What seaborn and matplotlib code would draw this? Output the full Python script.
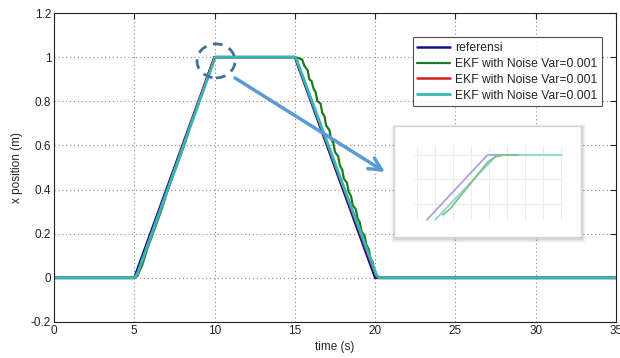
import numpy as np
import pandas as pd
import matplotlib
matplotlib.use("Agg")
import matplotlib.pyplot as plt
import seaborn as sns
from matplotlib.patches import Ellipse, Rectangle

# ---------------- data ----------------
ref_t = [0, 5, 10, 15, 20, 35]
ref_x = [0, 0, 1, 1, 0, 0]

green_t = [0, 5.0, 5.2, 5.5, 5.8, 6.1, 6.4, 6.7, 7.0, 7.3, 7.6, 7.9, 8.2, 8.5, 8.8, 9.1, 9.4, 9.7, 10.0,
           15.0, 15.45, 15.6, 15.8, 15.9, 16.05, 16.15, 16.3, 16.4, 16.6, 16.7, 16.85, 16.95, 17.15,
           17.25, 17.4, 17.5, 17.7, 17.8, 17.95, 18.05, 18.25, 18.35, 18.5, 18.6, 18.8, 18.9, 19.05,
           19.15, 19.35, 19.45, 19.6, 19.7, 19.85, 19.92, 20.0, 20.1, 20.25, 35]
green_x = [0, 0, 0.01, 0.06, 0.13, 0.19, 0.25, 0.31, 0.38, 0.44, 0.50, 0.56, 0.62, 0.69, 0.75, 0.81, 0.87, 0.94, 1.0,
           1.0, 0.99, 0.96, 0.94, 0.90, 0.89, 0.86, 0.84, 0.80, 0.79, 0.75, 0.73, 0.69, 0.67,
           0.63, 0.61, 0.57, 0.55, 0.51, 0.49, 0.45, 0.43, 0.39, 0.37, 0.33, 0.31, 0.27, 0.25,
           0.21, 0.19, 0.15, 0.13, 0.09, 0.07, 0.04, 0.03, 0.01, 0.0, 0]

red_t = [0, 5.0, 5.15, 10.0, 15.0, 15.08, 20.05, 20.2, 35]
red_x = [0, 0, 0.01, 1.0, 1.0, 0.99, 0.01, 0, 0]

cyan_t = [0, 5.0, 5.2, 10.05, 15.0, 15.1, 20.1, 20.3, 35]
cyan_x = [0, 0, 0.02, 1.0, 1.0, 0.99, 0.01, 0, 0]

labels = ["referensi", "EKF with Noise Var=0.001", "EKF with Noise Var=0.001", "EKF with Noise Var=0.001"]
x_ticks = [0, 5, 10, 15, 20, 25, 30, 35]
y_ticks = [-0.2, 0, 0.2, 0.4, 0.6, 0.8, 1.0, 1.2]
y_tick_labels = ["-0.2", "0", "0.2", "0.4", "0.6", "0.8", "1", "1.2"]

# inset (zoomed picture) series, in its own units
ins_purple_x = [0.56, 3.92, 5.64]
ins_purple_y = [-0.65, 2.0, 2.0]
ins_cyan_x = [1.02, 4.35, 4.8, 8.05]
ins_cyan_y = [-0.65, 1.93, 2.0, 2.0]
ins_green_x = [1.44, 1.44, 1.85, 3.92, 3.92, 4.35, 4.8, 5.63]
ins_green_y = [-0.65, -0.24, -0.2, 1.59, 1.8, 1.92, 2.0, 2.0]
ins_grid_v = [0, 1, 2, 3, 4, 5, 6, 7, 8]
ins_grid_h = [0, 1, 2]

# ---------------- style ----------------
sns.set_style("white")
plt.rcParams["font.family"] = ["Liberation Sans", "DejaVu Sans"]

fig = plt.figure(figsize=(6.2, 3.58), dpi=100)
W, H = 620, 358
ax = fig.add_axes([54 / W, 1 - 322 / H, (616 - 54) / W, (322 - 13) / H])

c_ref = "#10108f"
c_green = "#1f7a1f"
c_red = "#d02020"
c_cyan = "#33b8b8"

sns.lineplot(x=ref_t, y=ref_x, ax=ax, color=c_ref, lw=1.8, sort=False, label=labels[0])
sns.lineplot(x=green_t, y=green_x, ax=ax, color=c_green, lw=1.6, sort=False, label=labels[1])
sns.lineplot(x=red_t, y=red_x, ax=ax, color=c_red, lw=1.8, sort=False, label=labels[2])
sns.lineplot(x=cyan_t, y=cyan_x, ax=ax, color=c_cyan, lw=2.0, sort=False, label=labels[3])

ax.set_xlim(0, 35)
ax.set_ylim(-0.2, 1.2)
ax.set_xticks(x_ticks)
ax.set_yticks(y_ticks)
ax.set_yticklabels(y_tick_labels)
ax.tick_params(direction="in", length=4, width=0.8, labelsize=8.5, colors="#222222",
               top=True, right=True, pad=2)
ax.grid(True, color="#888888", linestyle=(0, (1, 2.5)), linewidth=0.8)
for s in ax.spines.values():
    s.set_color("#222222")
    s.set_linewidth(0.8)
ax.set_xlabel("time (s)", fontsize=8.5, labelpad=3)
ax.set_ylabel("x position (m)", fontsize=8.5, labelpad=6)

leg = ax.legend(loc="upper right", bbox_to_anchor=(0.975, 0.922), fontsize=8.7,
                frameon=True, fancybox=False, handlelength=2.7, labelspacing=0.32,
                borderpad=0.4, handletextpad=0.4, borderaxespad=0)
leg.get_frame().set_edgecolor("#222222")
leg.get_frame().set_linewidth(0.8)

# dashed ellipse
ell = Ellipse((10.09, 0.983), width=2.37, height=0.154, fill=False, edgecolor="#3f6f9c",
              linewidth=2.0, linestyle=(0, (3.5, 2.5)), zorder=5)
ax.add_patch(ell)

# arrow
ax.annotate("", xy=(385, H - 172), xycoords="figure pixels",
            xytext=(235, H - 78), textcoords="figure pixels",
            arrowprops=dict(arrowstyle="->,head_length=0.9,head_width=0.45",
                            color="#5b9bd5", lw=2.5, shrinkA=0, shrinkB=0), zorder=6)

# inset soft shadow
bx0, by0, bx1, by1 = 394, 126, 581, 237
for i, a in enumerate([0.025, 0.035, 0.045, 0.06]):
    off = 4 - i
    fig.patches.append(Rectangle(((bx0 - off + 1) / W, 1 - (by1 + off + 2) / H),
                                 (bx1 - bx0 + 2 * off) / W, (by1 - by0 + 2 * off) / H,
                                 transform=fig.transFigure, facecolor="#000000",
                                 edgecolor="none", alpha=a, zorder=3))

iax = fig.add_axes([bx0 / W, 1 - by1 / H, (bx1 - bx0) / W, (by1 - by0) / H])
iax.set_zorder(4)
iax.set_facecolor("white")
iax.set_xticks([])
iax.set_yticks([])
for s in iax.spines.values():
    s.set_color("#d4d4d4")
    s.set_linewidth(1.0)
iax.vlines(ins_grid_v, -0.65, 2.41, color="#ececec", lw=0.8)
iax.hlines(ins_grid_h, -0.19, 8.05, color="#ececec", lw=0.8)
sns.lineplot(x=ins_purple_x, y=ins_purple_y, ax=iax, color="#aaa4d8", lw=1.3, sort=False)
sns.lineplot(x=ins_cyan_x, y=ins_cyan_y, ax=iax, color="#8ed6cf", lw=1.3, sort=False)
sns.lineplot(x=ins_green_x, y=ins_green_y, ax=iax, color="#84c08e", lw=1.3, sort=False)
iax.set_xlim(-1.26, 9.1)
iax.set_ylim(-1.35, 3.18)

fig.savefig("out.png", dpi=100)
